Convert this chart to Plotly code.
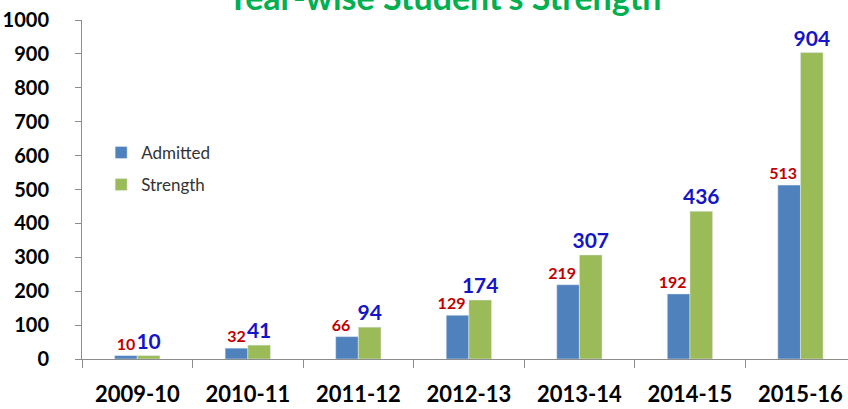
import plotly.graph_objects as go

# data
years = ['2009-10', '2010-11', '2011-12', '2012-13', '2013-14', '2014-15', '2015-16']
admitted = [10, 32, 66, 129, 219, 192, 513]
strength = [10, 41, 94, 174, 307, 436, 904]

FONT = 'Lato'

# the larger admitted labels sit a little left of their bar (trailing em space)
admitted_text = [f'{v}\u2003' if v > 50 else str(v) for v in admitted]

fig = go.Figure()

fig.add_trace(go.Bar(
    x=years, y=admitted, name='Admitted', legendgroup='a',
    marker=dict(color='#4F81BD'),
    text=admitted_text, textposition='outside', constraintext='none', cliponaxis=False,
    textfont=dict(family=FONT, size=16, color='#C00000', weight='bold'),
))
fig.add_trace(go.Bar(
    x=years, y=strength, name='Strength', legendgroup='b',
    marker=dict(color='#9BBB59'),
    text=strength, textposition='outside', constraintext='none', cliponaxis=False,
    textfont=dict(family=FONT, size=21, color='#1515C8', weight='bold'),
))
# invisible trace so the label axis has its categories
fig.add_trace(go.Scatter(x=years, y=[0] * len(years), xaxis='x2', mode='markers',
                         marker=dict(opacity=0), showlegend=False, hoverinfo='skip'))

fig.update_layout(
    width=848, height=409,
    margin=dict(l=82, r=0, t=20, b=50),
    plot_bgcolor='white', paper_bgcolor='white',
    barmode='group', bargap=0.59, bargroupgap=0,
    font=dict(family=FONT, color='#000000'),
    legend=dict(
        x=0.025, y=0.661, xanchor='left', yanchor='top',
        bgcolor='rgba(0,0,0,0)', tracegroupgap=7,
        font=dict(family=FONT, size=17, color='#333333'),
    ),
    annotations=[dict(
        text="Year-wise Student's Strength",
        xref='paper', yref='paper', x=0.473, y=1,
        xanchor='center', yanchor='bottom', yshift=1,
        showarrow=False,
        font=dict(family=FONT, size=34, color='#00B050', weight='bold'),
    )],
    xaxis=dict(
        type='category', categoryarray=years, range=[-0.5, 6.43], automargin=False,
        showline=True, linecolor='#8C8C8C', linewidth=1,
        ticks='outside', ticklen=8, tickcolor='#8C8C8C', tickson='boundaries',
        showticklabels=False, showgrid=False, zeroline=False,
    ),
    xaxis2=dict(
        type='category', categoryarray=years, range=[-0.5, 6.43], automargin=False,
        overlaying='x', anchor='y', side='bottom',
        showline=False, ticks='', ticklabelstandoff=20,
        tickfont=dict(family=FONT, size=22, color='#000000', weight='bold'),
        showgrid=False, zeroline=False,
    ),
    yaxis=dict(
        range=[0, 1000], dtick=100, automargin=False,
        showline=True, linecolor='#8C8C8C', linewidth=1,
        ticks='outside', ticklen=6, tickcolor='#8C8C8C',
        ticklabelstandoff=22,
        tickfont=dict(family=FONT, size=20, color='#000000', weight='bold'),
        showgrid=False, zeroline=False,
    ),
)

# drop the page's default 8px body margin so the figure sits at the window corner
fig.write_html("out.html", config={'displayModeBar': False},
               post_script="document.body.style.margin='0';")
